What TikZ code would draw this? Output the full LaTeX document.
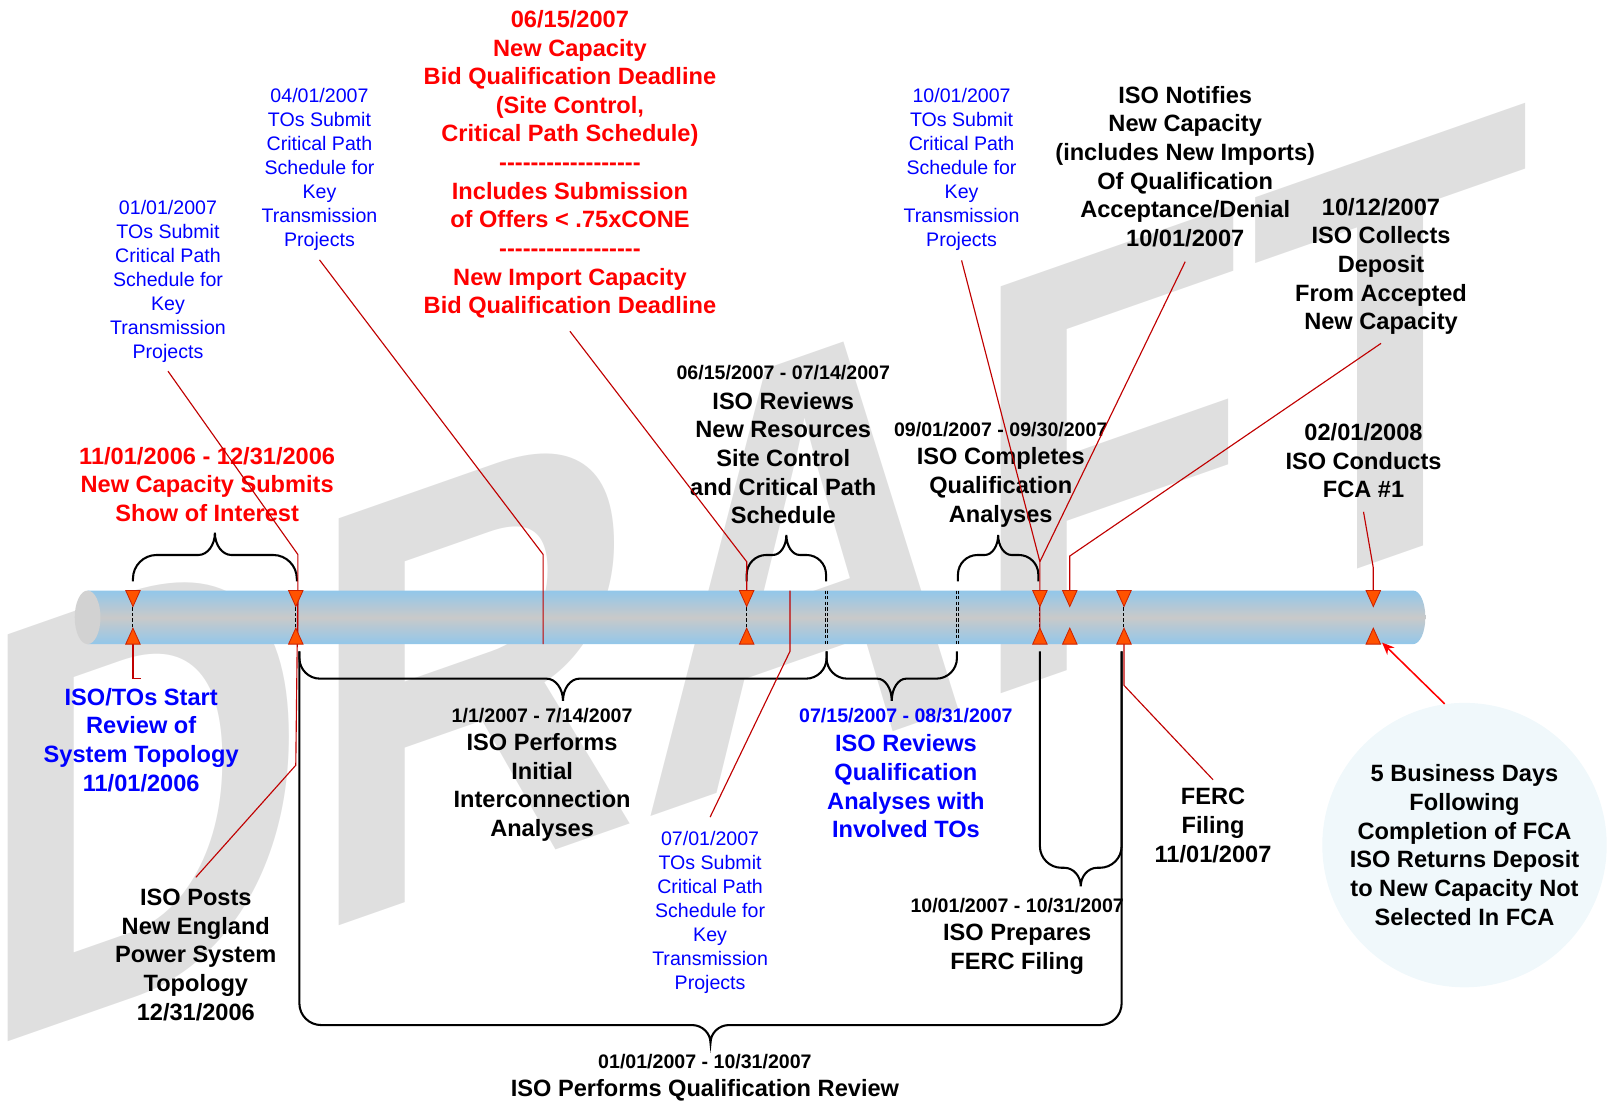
\documentclass[tikz,border=0pt]{standalone}
\usepackage{fontspec}
\setmainfont{Liberation Sans}
\usetikzlibrary{arrows.meta,calc}
\definecolor{wmgray}{HTML}{DFDFDF}
\definecolor{tubeblue}{HTML}{92C7EA}
\definecolor{tubegray}{HTML}{C9C9C9}
\definecolor{capgray}{HTML}{D2D2D2}
\definecolor{darkred}{HTML}{C00000}
\definecolor{mkfill}{HTML}{FF5200}
\definecolor{mkdraw}{HTML}{CC2200}
\definecolor{circfill}{HTML}{F0F8FB}
\definecolor{txtblue}{HTML}{0000FF}
\definecolor{txtred}{HTML}{FF0000}
\newcommand\dashrow{\mbox{-}\mbox{-}\mbox{-}\mbox{-}\mbox{-}\mbox{-}\mbox{-}\mbox{-}\mbox{-}\mbox{-}\mbox{-}\mbox{-}\mbox{-}\mbox{-}\mbox{-}\mbox{-}\mbox{-}\mbox{-}}
\newcommand\cbrace[7]{%
 \pgfmathsetmacro\bxm{(#1+#2)/2}%
 \pgfmathsetmacro\byc{#4+#6*(#3-#4)/abs(#3-#4)}%
 \draw[bracesty] (#1,#3) -- (#1,\byc) .. controls (#1,{\byc-0.552*(\byc-#4)}) and ({#1+0.448*#6},#4) .. ({#1+#6},#4)
  -- ({\bxm-#7},#4) .. controls ({\bxm-0.448*#7},#4) and (\bxm,{#5+0.552*(#4-#5)}) .. (\bxm,#5)
  .. controls (\bxm,{#5+0.552*(#4-#5)}) and ({\bxm+0.448*#7},#4) .. ({\bxm+#7},#4)
  -- ({#2-#6},#4) .. controls ({#2-0.448*#6},#4) and (#2,{\byc-0.552*(\byc-#4)}) .. (#2,\byc) -- (#2,#3);}
\newcommand\mkpair[1]{%
 \filldraw[mkstyle] ({#1-7},573) -- ({#1+7},573) -- (#1,588.5) -- cycle;
 \filldraw[mkstyle] ({#1-7},625) -- ({#1+7},625) -- (#1,609.5) -- cycle;}
\tikzset{
 bigtxt/.style={font=\bfseries\fontsize{11.45}{13.9}\selectfont, align=center, inner sep=0pt},
 datetxt/.style={font=\bfseries\fontsize{9.5}{11.6}\selectfont, align=center, inner sep=0pt},
 smtxt/.style={font=\fontsize{9.5}{11.65}\selectfont, align=center, inner sep=0pt, text=txtblue},
 conn/.style={draw=darkred, line width=0.55pt},
 bracesty/.style={draw=black, line width=1pt},
 dashsty/.style={draw=black, line width=0.5pt, dash pattern=on 1.6pt off 1.1pt},
 mkstyle/.style={fill=mkfill, draw=mkdraw, line width=0.4pt, line join=miter},
}
\begin{document}
\begin{tikzpicture}[x={(0.5pt,0)}, y={(0,-0.5pt)}]
\useasboundingbox (0,0) rectangle (1568,1068);
% watermark
\node[anchor=base west, inner sep=0pt, text=wmgray, font=\bfseries\fontsize{287}{287}\selectfont, yslant=0.35, xscale=0.775] (wm) at (-22.6,1021) {DRAFT};
% tube
\shade[top color=tubeblue, bottom color=tubeblue, middle color=tubegray]
 (85,573) -- (1371,573) .. controls (1378,573) and (1383,585) .. (1383,599) .. controls (1383,613) and (1378,625) .. (1371,625) -- (85,625) -- cycle;
\fill[capgray] (85,599) ellipse [x radius=6.25pt, y radius=13pt];
% dashed lines through the tube
\foreach \xx in {129,287,724,1009,1090} {\draw[dashsty] (\xx,573) -- (\xx,625);}
\foreach \xx in {800.8,803.2,927.8,930.2} {\draw[dashsty] (\xx,573) -- (\xx,625);}
% braces
\cbrace{129}{288}{564}{538.5}{517}{23}{16}
\cbrace{724.5}{801.5}{564}{538.5}{519}{19}{13}
\cbrace{929.5}{1007.5}{564}{538.5}{519}{19}{13}
\cbrace{290.5}{802}{632}{658.5}{680}{20}{16}
\cbrace{802}{928.5}{632}{658.5}{680}{20}{14}
\cbrace{290.5}{1088.3}{632}{994.6}{1012}{21}{18}
\cbrace{1009}{1088.3}{632}{842}{860}{21}{16}
% marker coordinates
\coordinate (t1) at (129,573); \coordinate (b1) at (129,625);
\coordinate (t2) at (289,573); \coordinate (b2) at (289,625);
\coordinate (t3) at (724.5,573); \coordinate (b3) at (724.5,625);
\coordinate (t4) at (1009,573); \coordinate (b4) at (1009,625);
\coordinate (t5) at (1038,573); \coordinate (b5) at (1038,625);
\coordinate (t6) at (1090.6,573); \coordinate (b6) at (1090.6,625);
\coordinate (t7) at (1332.5,573); \coordinate (b7) at (1332.5,625);
\coordinate (a7) at (1341,623.5);
\coordinate (tube527) at (527,625);
\coordinate (tube767) at (766.5,573);
% texts
\node[bigtxt, text=txtred] (A) at (201,470) {11/01/2006 - 12/31/2006\\New Capacity Submits\\Show of Interest};
\node[smtxt] (B) at (163,273) {01/01/2007\\TOs Submit\\Critical Path\\Schedule for\\Key\\Transmission\\Projects};
\node[smtxt] (C) at (310,164) {04/01/2007\\TOs Submit\\Critical Path\\Schedule for\\Key\\Transmission\\Projects};
\node[bigtxt, text=txtred] (D) at (553,159.5) {06/15/2007\\New Capacity\\Bid Qualification Deadline\\(Site Control,\\Critical Path Schedule)\\\dashrow\\Includes Submission\\of Offers < .75xCONE\\\dashrow\\New Import Capacity\\Bid Qualification Deadline};
\node[datetxt] (Ed) at (760,362) {06/15/2007 - 07/14/2007};
\node[bigtxt] (E) at (760,444.5) {ISO Reviews\\New Resources\\Site Control\\and Critical Path\\Schedule};
\node[smtxt] (F) at (933,164) {10/01/2007\\TOs Submit\\Critical Path\\Schedule for\\Key\\Transmission\\Projects};
\node[bigtxt] (G) at (1150,161.5) {ISO Notifies\\New Capacity\\(includes New Imports)\\Of Qualification\\Acceptance/Denial\\10/01/2007};
\node[bigtxt] (H) at (1340,258.5) {10/12/2007\\ISO Collects\\Deposit\\From Accepted\\New Capacity};
\node[datetxt] (Id) at (971,417) {09/01/2007 - 09/30/2007};
\node[bigtxt] (I) at (971,473) {ISO Completes\\Qualification\\Analyses};
\node[bigtxt] (J) at (1323,447) {02/01/2008\\ISO Conducts\\FCA \#1};
\node[bigtxt, text=txtblue] (K) at (137,718) {ISO/TOs Start\\Review of\\System Topology\\11/01/2006};
\node[datetxt] (Ld) at (526,694) {1/1/2007 - 7/14/2007};
\node[bigtxt] (L) at (526,764) {ISO Performs\\Initial\\Interconnection\\Analyses};
\node[datetxt, text=txtblue] (Md) at (879,694) {07/15/2007 - 08/31/2007};
\node[bigtxt, text=txtblue] (M) at (879,763) {ISO Reviews\\Qualification\\Analyses with\\Involved TOs};
\node[smtxt] (N) at (689,885) {07/01/2007\\TOs Submit\\Critical Path\\Schedule for\\Key\\Transmission\\Projects};
\node[bigtxt] (O) at (1177,801) {FERC\\Filing\\11/01/2007};
\node[bigtxt] (P) at (190,926.5) {ISO Posts\\New England\\Power System\\Topology\\12/31/2006};
\node[datetxt] (Qd) at (987,879) {10/01/2007 - 10/31/2007};
\node[bigtxt] (Q) at (987,921) {ISO Prepares\\FERC Filing};
\node[datetxt] (Rd) at (684,1030) {01/01/2007 - 10/31/2007};
\node[bigtxt] (R) at (684,1058) {ISO Performs Qualification Review};
\node[circle, fill=circfill, minimum size=138pt, bigtxt] (S) at (1421,820) {5 Business Days\\Following\\Completion of FCA\\ISO Returns Deposit\\to New Capacity Not\\Selected In FCA};
% bend coordinates
\coordinate (kB) at (289,538);
\coordinate (kP) at (287,742.5);
\coordinate (kC) at (527,538);
\coordinate (kD) at (724.5,545);
\coordinate (kN) at (766.5,632);
\coordinate (kF) at (1009,545);
\coordinate (kH) at (1038,539.5);
\coordinate (kJ) at (1332.5,551);
\coordinate (kO) at (1090.6,665);
% connectors
\draw[conn] ([yshift=-4pt]B.south) -- (kB) -- (b2);
\draw[conn] ([yshift=5.5pt]P.north) -- (kP) -- (t2);
\draw[conn] ([yshift=-4.5pt]C.south) -- (kC) -- (tube527);
\draw[conn] ([yshift=-6pt]D.south) -- (kD) -- (t3);
\draw[conn] ([yshift=6.5pt]N.north) -- (kN) -- (tube767);
\draw[conn] ([yshift=-4.75pt]F.south) -- (kF) -- (b4);
\draw[conn] ([yshift=-7pt]G.south) -- (kF);
\draw[conn] ([yshift=-4pt]H.south) -- (kH) -- (t5);
\draw[conn] ([yshift=-6.5pt]J.south) -- (kJ) -- (t7);
\draw[conn] ([yshift=4pt]O.north) -- (kO) -- (b6);
\draw[conn] (b1) |- ([yshift=4.5pt]K.north);
\draw[-{Stealth[length=6pt,width=5pt]}, draw=txtred, fill=txtred, line width=0.75pt] (S.98) -- (a7);
% markers
\mkpair{129}\mkpair{287}\mkpair{724.5}\mkpair{1009}\mkpair{1038}\mkpair{1090.6}\mkpair{1332.5}
\end{tikzpicture}
\end{document}
